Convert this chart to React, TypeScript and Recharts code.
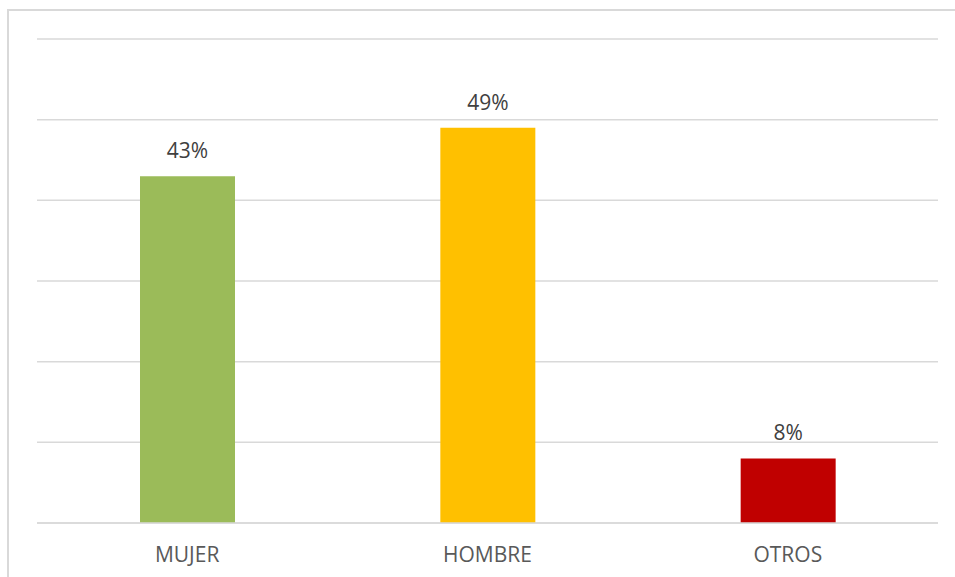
// Distribución por sexo: bar chart with percentage labels above each bar

import { BarChart, Bar, Cell, XAxis, YAxis, CartesianGrid, LabelList } from "recharts";

const categories = ["MUJER", "HOMBRE", "OTROS"];
const shares = [0.43, 0.49, 0.08];
const barColors = ["#9bbb59", "#ffc000", "#c00000"];
const yTicks = [0, 0.1, 0.2, 0.3, 0.4, 0.5, 0.6];

const chartData = categories.map((name, i) => ({ name, value: shares[i] }));

const FONT = "'Open Sans', 'Liberation Sans', sans-serif";

export default function App() {
  return (
    <div style={{ position: "absolute", left: 0, top: 0, width: 955, height: 577, background: "#ffffff", overflow: "hidden" }}>
      {/* outer chart frame, runs off the right and bottom edges */}
      <div
        style={{
          position: "absolute",
          left: 7,
          top: 9,
          width: 970,
          height: 600,
          border: "2px solid #d9d9d9",
          boxSizing: "border-box",
        }}
      />
      <div style={{ position: "absolute", left: 0, top: 0 }}>
        <BarChart
          width={955}
          height={577}
          data={chartData}
          margin={{ top: 39, right: 17, left: 37, bottom: 14 }}
        >
          <CartesianGrid vertical={false} stroke="#d9d9d9" strokeWidth={1.5} />
          <YAxis hide domain={[0, 0.6]} ticks={yTicks} />
          <XAxis
            dataKey="name"
            height={40}
            axisLine={{ stroke: "#d9d9d9", strokeWidth: 1.5 }}
            tickLine={false}
            tickSize={0}
            tickMargin={24}
            tick={{ fill: "#595959", fontSize: 21, fontFamily: FONT }}
          />
          <Bar dataKey="value" barSize={95} isAnimationActive={false}>
            {chartData.map((entry, index) => (
              <Cell key={`cell-${index}`} fill={barColors[index]} />
            ))}
            <LabelList
              dataKey="value"
              position="top"
              offset={18}
              formatter={(v: any) => `${Math.round(Number(v) * 100)}%`}
              style={{ fill: "#404040", fontSize: 21, fontFamily: FONT }}
            />
          </Bar>
        </BarChart>
      </div>
    </div>
  );
}
